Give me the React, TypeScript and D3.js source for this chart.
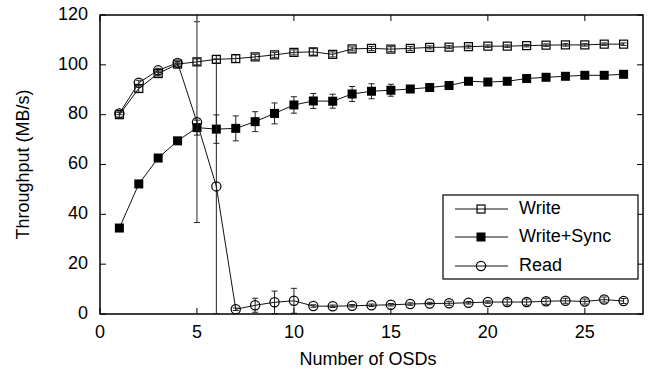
import React from 'react';
import * as d3 from 'd3';

const osds = [1, 2, 3, 4, 5, 6, 7, 8, 9, 10, 11, 12, 13, 14, 15, 16, 17, 18, 19, 20, 21, 22, 23, 24, 25, 26, 27];

const writeVals = [80, 90.5, 96.5, 100.3, 101.2, 102.2, 102.5, 103.2, 104, 105, 105.2, 104.2, 106.4, 106.6, 106.3, 106.6, 107, 107.1, 107.3, 107.5, 107.5, 107.7, 107.9, 108, 108, 108.3, 108.3];
const writeErr = [1, 1.5, 1, 0.8, 1.2, 1.5, 1.5, 1, 1, 1, 1.3, 1, 0.8, 0.8, 1, 0.8, 0.6, 0.6, 0.6, 0.5, 0.5, 0.5, 0.5, 0.5, 0.5, 0.5, 0.5];

const syncVals = [34.5, 52.2, 62.6, 69.5, 74.8, 74.2, 74.5, 77.2, 80.5, 83.9, 85.5, 85.4, 88.3, 89.4, 89.8, 90.3, 90.9, 91.7, 93.4, 93.1, 93.4, 94.5, 95, 95.4, 95.8, 95.8, 96.2];
const syncErr = [0.5, 0.5, 0.5, 0.8, 3, 5.7, 5, 4, 4.2, 3.3, 3, 2.8, 3, 3, 2.4, 1.2, 1, 0.8, 0.8, 0.8, 0.8, 0.8, 0.8, 0.8, 0.8, 0.8, 0.8];

const readVals = [80.5, 92.8, 97.8, 100.8, 77, 51.2, 1.9, 3.5, 4.7, 5.3, 3.2, 3.1, 3.3, 3.5, 3.7, 4, 4.2, 4.3, 4.5, 4.8, 4.8, 4.8, 5.1, 5.3, 5, 5.8, 5.2];
const readErr = [0.5, 1, 0.8, 0.5, 40.3, 51.2, 0.5, 2.8, 4.5, 5, 0.5, 0.5, 0.5, 0.5, 0.5, 0.5, 0.5, 0.8, 0.5, 0.5, 1.2, 1.2, 1.2, 1, 1, 1, 1];

const xTicks = [0, 5, 10, 15, 20, 25];
const yTicks = [0, 20, 40, 60, 80, 100, 120];

const seriesNames = ['Write', 'Write+Sync', 'Read'];

const W = 651;
const H = 369;
const margin = { top: 15, right: 8, bottom: 55, left: 100 };
const font = '"Liberation Sans", Arial, Helvetica, sans-serif';

function Marker({ kind, x, y }: { kind: string; x: number; y: number }) {
  const s = 8;
  if (kind === 'Write') {
    return <rect x={x - s / 2} y={y - s / 2} width={s} height={s} fill="none" stroke="#000" strokeWidth={1.2} />;
  }
  if (kind === 'Write+Sync') {
    return <rect x={x - s / 2 - 0.5} y={y - s / 2 - 0.5} width={s + 1} height={s + 1} fill="#000" />;
  }
  return <circle cx={x} cy={y} r={4.6} fill="none" stroke="#000" strokeWidth={1.2} />;
}

export default function App() {
  const innerW = W - margin.left - margin.right;
  const innerH = H - margin.top - margin.bottom;
  const x = d3.scaleLinear().domain([0, 28]).range([margin.left, margin.left + innerW]);
  const y = d3.scaleLinear().domain([0, 120]).range([margin.top + innerH, margin.top]);

  const series = [
    { name: seriesNames[0], vals: writeVals, err: writeErr },
    { name: seriesNames[1], vals: syncVals, err: syncErr },
    { name: seriesNames[2], vals: readVals, err: readErr },
  ];

  const line = d3
    .line<number>()
    .x((_, i) => x(osds[i]))
    .y((d) => y(d));

  const x0 = x(0);
  const x1 = x(28);
  const y0 = y(0);
  const y1 = y(120);
  const tick = 6;

  const legendX = 443;
  const legendY = 195;
  const legendRows = [209, 237, 266];

  return (
    <svg
      width={W}
      height={H}
      style={{ position: 'absolute', left: 0, top: 0, background: '#fff', fontFamily: font }}
    >
      <rect x={0} y={0} width={W} height={H} fill="#fff" />
      <defs>
        <clipPath id="plot">
          <rect x={x0} y={y1} width={x1 - x0} height={y0 - y1} />
        </clipPath>
      </defs>

      {/* ticks, mirrored on all sides */}
      {xTicks.map((t) => (
        <g key={'xt' + t}>
          <line x1={x(t)} x2={x(t)} y1={y0} y2={y0 - tick} stroke="#000" />
          <line x1={x(t)} x2={x(t)} y1={y1} y2={y1 + tick} stroke="#000" />
          <text x={x(t)} y={333} textAnchor="middle" dominantBaseline="middle" fontSize={18} fill="#000">
            {t}
          </text>
        </g>
      ))}
      {yTicks.map((t) => (
        <g key={'yt' + t}>
          <line x1={x0} x2={x0 + tick} y1={y(t)} y2={y(t)} stroke="#000" />
          <line x1={x1} x2={x1 - tick} y1={y(t)} y2={y(t)} stroke="#000" />
          <text x={88} y={y(t)} textAnchor="end" dominantBaseline="middle" fontSize={18} fill="#000">
            {t}
          </text>
        </g>
      ))}

      <g clipPath="url(#plot)">
        {series.map((s) => (
          <g key={s.name}>
            <path d={line(s.vals) || ''} fill="none" stroke="#111" strokeWidth={1} />
            {s.vals.map((v, i) => {
              const cx = x(osds[i]);
              const top = y(v + s.err[i]);
              const bot = y(Math.max(0, v - s.err[i]));
              return (
                <g key={i}>
                  <line x1={cx} x2={cx} y1={top} y2={bot} stroke="#222" strokeWidth={1} />
                  <line x1={cx - 3} x2={cx + 3} y1={top} y2={top} stroke="#222" strokeWidth={1} />
                  <line x1={cx - 3} x2={cx + 3} y1={bot} y2={bot} stroke="#222" strokeWidth={1} />
                </g>
              );
            })}
            {s.vals.map((v, i) => (
              <Marker key={'m' + i} kind={s.name} x={x(osds[i])} y={y(v)} />
            ))}
          </g>
        ))}
      </g>

      <rect x={x0} y={y1} width={x1 - x0} height={y0 - y1} fill="none" stroke="#000" strokeWidth={1.5} />

      {/* legend */}
      <rect x={legendX} y={legendY} width={195} height={84} fill="#fff" stroke="#000" strokeWidth={1.2} />
      {series.map((s, i) => (
        <g key={'lg' + s.name}>
          <line x1={455} x2={508} y1={legendRows[i]} y2={legendRows[i]} stroke="#111" strokeWidth={1} />
          <Marker kind={s.name} x={481} y={legendRows[i]} />
          <text x={519} y={legendRows[i]} dominantBaseline="middle" fontSize={18} fill="#000">
            {s.name}
          </text>
        </g>
      ))}

      <text x={368} y={360} textAnchor="middle" dominantBaseline="middle" fontSize={18} fill="#000">
        Number of OSDs
      </text>
      <text
        transform={`translate(24,${(y0 + y1) / 2}) rotate(-90)`}
        textAnchor="middle"
        dominantBaseline="middle"
        fontSize={18}
        fill="#000"
      >
        Throughput (MB/s)
      </text>
    </svg>
  );
}
